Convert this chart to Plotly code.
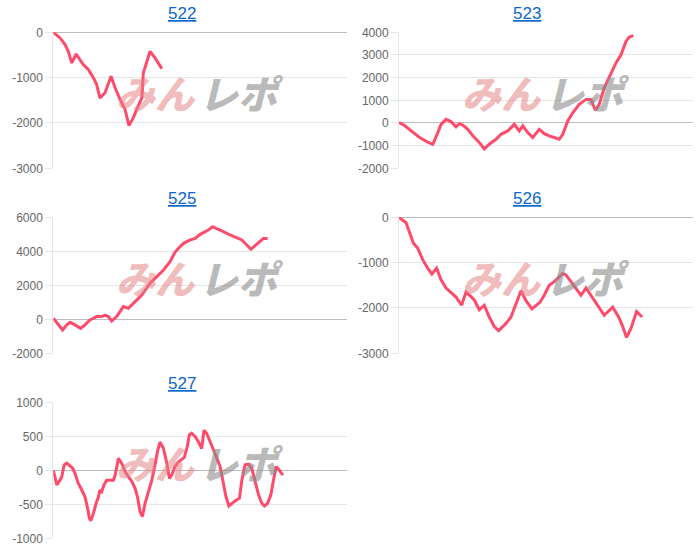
import plotly.graph_objects as go

# ---------------- data (x = share of the common horizontal scale, y = difference) ----------------
titles = ["522", "523", "525", "526", "527"]

x522 = [0, 2.3, 4.0, 5.1, 6.3, 7.8, 10.2, 12.0, 13.7, 14.8, 15.9, 17.6, 19.7, 21.1, 22.8, 24.5,
        25.8, 27.3, 28.7, 30.2, 30.7, 31.9, 33.0, 34.7, 37.0]
y522 = [0, -125, -272, -419, -676, -478, -713, -824, -1007, -1154, -1449, -1338, -971, -1228,
        -1485, -1706, -2059, -1882, -1662, -1449, -897, -640, -419, -566, -801]

x523 = [0, 1.8, 3.5, 6.9, 9.8, 11.5, 13.2, 14.3, 16.0, 17.7, 19.4, 20.5, 21.7, 23.4, 25.1, 27.3,
        29.0, 30.7, 33.0, 34.7, 37.0, 39.2, 40.9, 42.1, 43.8, 45.5, 47.7, 49.4, 51.1, 52.8, 54.5,
        55.7, 57.4, 59.1, 61.3, 63.6, 65.3, 66.8, 68.1, 69.8, 71.5, 73.8, 75.5, 77.2, 78.3, 79.7]
y523 = [20, -100, -280, -630, -850, -940, -425, -60, 160, 60, -175, -30, -90, -280, -570, -860,
        -1150, -940, -720, -500, -350, -60, -350, -130, -425, -645, -280, -470, -570, -645, -720,
        -500, 90, 450, 820, 1040, 1040, 560, 820, 1550, 1990, 2650, 3010, 3600, 3790, 3850]

x525 = [0, 1.7, 3.2, 4.6, 5.7, 7.4, 9.3, 10.8, 12.5, 13.7, 14.8, 16.5, 17.7, 18.8, 19.9, 21.6,
        22.8, 23.9, 25.6, 26.8, 28.5, 30.2, 31.9, 33.0, 35.3, 37.6, 39.8, 41.5, 42.7, 44.4, 46.7,
        48.4, 50.1, 51.8, 52.9, 54.3, 55.8, 58.0, 60.3, 62.6, 64.3, 66.0, 67.4, 68.8, 70.6, 71.7, 73.1]
y525 = [60, -290, -630, -330, -180, -330, -530, -330, -40, 60, 160, 160, 250, 160, -100, 160,
        450, 750, 650, 880, 1140, 1430, 1820, 2120, 2510, 2900, 3390, 3940, 4180, 4470, 4670,
        4760, 5000, 5160, 5250, 5450, 5350, 5160, 4960, 4800, 4670, 4370, 4120, 4330, 4570, 4760, 4760]

x526 = [0, 1.3, 2.4, 3.5, 4.9, 6.4, 8.1, 9.8, 11.2, 12.8, 14.3, 16.0, 17.7, 19.4, 21.3, 22.8,
        24.5, 25.6, 27.3, 29.0, 30.7, 32.4, 33.9, 35.3, 36.4, 38.1, 39.8, 41.5, 43.2, 45.2, 46.6,
        48.0, 49.4, 51.1, 52.8, 54.5, 55.7, 56.8, 58.5, 60.2, 61.9, 63.6, 65.3, 67.0, 68.4, 69.8,
        72.7, 74.7, 76.1, 77.4, 78.9, 80.8, 82.7]
y526 = [0, -60, -120, -320, -570, -685, -940, -1125, -1250, -1125, -1380, -1560, -1670, -1760,
        -1940, -1650, -1750, -1820, -2040, -1940, -2200, -2410, -2500, -2410, -2340, -2200, -1910,
        -1620, -1840, -2020, -1950, -1870, -1720, -1500, -1420, -1310, -1240, -1270, -1420, -1560,
        -1720, -1560, -1720, -1870, -2020, -2160, -1980, -2200, -2410, -2650, -2450, -2080, -2200]

x527 = [0, 0.6, 1.2, 2.3, 2.9, 3.7, 4.6, 5.7, 6.6, 7.4, 8.5, 9.7, 10.8, 11.6, 12.3, 12.8, 13.7,
        14.6, 15.4, 15.9, 16.5, 17.3, 18.2, 19.4, 20.5, 21.1, 22.2, 23.3, 24.5, 25.6, 26.8, 27.9,
        28.7, 29.6, 30.4, 31.3, 32.4, 33.6, 34.7, 35.6, 36.4, 37.6, 38.7, 39.6, 40.4, 41.5, 42.7,
        43.8, 44.7, 45.7, 46.4, 47.2, 48.4, 49.5, 50.6, 51.4, 52.3, 53.5, 54.6, 55.8, 56.9, 57.8,
        58.4, 58.9, 59.9, 60.9, 62.0, 63.5, 64.3, 65.4, 66.6, 67.7, 68.8, 70.0, 71.1, 72.0, 73.1,
        74.2, 75.1, 76.0, 77.1, 78.3]
y527 = [0, -120, -215, -145, -95, 80, 105, 65, 30, -45, -190, -290, -390, -535, -705, -740, -630,
        -485, -390, -290, -315, -215, -145, -145, -145, -70, 175, 105, -20, -95, -165, -265,
        -390, -610, -680, -485, -315, -145, 80, 290, 415, 320, 105, -120, -70, 55, 125,
        160, 190, 350, 520, 545, 495, 420, 320, 590, 545, 420, 290, 175, 55, -145,
        -290, -390, -525, -485, -450, -410, -145, 80, 90, 30, -165, -360, -485, -525, -485,
        -360, -145, 55, 0, -70]

ticks522 = [0, -1000, -2000, -3000]
ticks523 = [4000, 3000, 2000, 1000, 0, -1000, -2000]
ticks525 = [6000, 4000, 2000, 0, -2000]
ticks526 = [0, -1000, -2000, -3000]
ticks527 = [1000, 500, 0, -500, -1000]

xs = [x522, x523, x525, x526, x527]
ys = [y522, y523, y525, y526, y527]
tickvals = [ticks522, ticks523, ticks525, ticks526, ticks527]

# ---------------- layout geometry ----------------
W, H = 700, 552
col_px = [[53.3, 346.5], [399, 693]]
col_dom = [[a / W, b / W] for a, b in col_px]
row_top = [32.3, 217.3, 402.3]
plot_h = 136
title_x = [182 / W, 527 / W]
wm_x = [[156 / W, 241 / W], [502 / W, 587 / W]]

LINE = "#ff4b6b"
GRID = "#e6e6e6"
ZERO = "#bcbcbc"
TICKF = dict(family="Liberation Sans, Arial, sans-serif", size=12, color="#666666")

fig = go.Figure()
layout = dict(
    width=W, height=H,
    margin=dict(l=0, r=0, t=0, b=0),
    paper_bgcolor="white", plot_bgcolor="white",
    showlegend=False,
)
annotations = []

for i, name in enumerate(titles):
    r, c = divmod(i, 2)
    k = "" if i == 0 else str(i + 1)
    top = row_top[r]
    ydom = [1 - (top + plot_h) / H, 1 - top / H]
    tv = tickvals[i]
    layout["xaxis" + k] = dict(
        domain=col_dom[c], anchor="y" + k, range=[0, 100],
        showgrid=False, zeroline=False, showticklabels=False, showline=False,
        ticks="", fixedrange=True, automargin=False,
    )
    layout["yaxis" + k] = dict(
        domain=ydom, anchor="x" + k, range=[min(tv), max(tv)],
        tickmode="array", tickvals=tv, ticktext=[str(v) for v in tv],
        showgrid=True, gridcolor=GRID, gridwidth=1,
        zeroline=True, zerolinecolor=ZERO, zerolinewidth=1,
        showline=True, linecolor=GRID, linewidth=1,
        ticks="outside", ticklen=7, tickcolor=GRID,
        tickfont=TICKF, automargin=False, fixedrange=True,
    )
    wy = 1 - (top + 60) / H
    annotations.append(dict(
        text="みん", xref="paper", yref="paper",
        x=wm_x[c][0], y=wy, xanchor="center", yanchor="middle", showarrow=False,
        font=dict(family="Noto Sans CJK JP", size=39, weight=900, style="italic",
                  color="rgba(228,130,130,0.55)"),
    ))
    annotations.append(dict(
        text="レポ", xref="paper", yref="paper",
        x=wm_x[c][1], y=wy, xanchor="center", yanchor="middle", showarrow=False,
        font=dict(family="Noto Sans CJK JP", size=39, weight=900, style="italic",
                  color="rgba(140,140,140,0.6)"),
    ))
    fig.add_trace(go.Scatter(
        x=xs[i], y=ys[i], mode="lines",
        line=dict(color=LINE, width=3),
        xaxis="x" + k, yaxis="y" + k, hoverinfo="skip",
    ))
    annotations.append(dict(
        text=name, xref="paper", yref="paper",
        x=title_x[c], y=1 - (top - 19) / H, xanchor="center", yanchor="middle",
        showarrow=False,
        font=dict(family="Liberation Sans, Arial, sans-serif", size=17,
                  color="#0b66d0", lineposition="under"),
    ))

layout["annotations"] = annotations
fig.update_layout(**layout)
fig.write_html(
    "out.html",
    config={"displayModeBar": False, "staticPlot": True},
    post_script="document.body.style.margin='0';document.body.style.overflow='hidden';",
)
